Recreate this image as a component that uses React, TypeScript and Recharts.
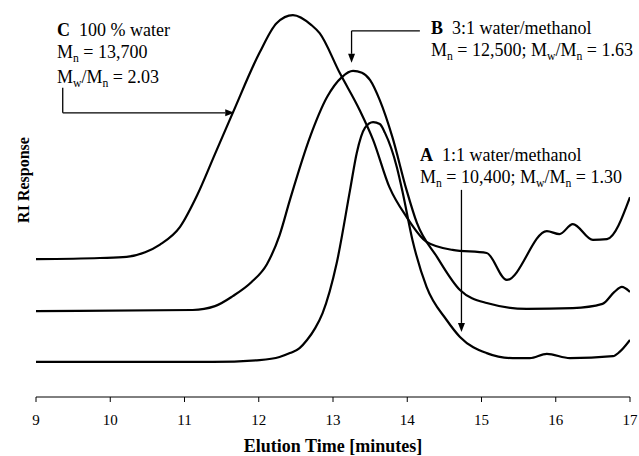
import React from "react"
import { Line, LineChart, ReferenceLine, XAxis, YAxis } from "recharts"

const xTicks = [9, 10, 11, 12, 13, 14, 15, 16, 17]

// C: 100 % water
const timeC = [9.0, 9.86, 10.22, 10.47, 10.67, 10.94, 11.17, 11.41, 11.65, 12.01, 12.24, 12.46, 12.71, 12.82, 13.09, 13.36, 13.54, 13.76, 13.99, 14.26, 14.61, 15.07, 15.34, 15.88, 16.05, 16.23, 16.5, 16.69, 17.0]
const respC = [35.8, 36.1, 36.4, 37.6, 39.6, 44.2, 52.4, 63.1, 73.8, 89.4, 97.1, 99.2, 96.6, 94.5, 84.2, 74.5, 66.8, 54.5, 46.8, 40.3, 38.2, 37.4, 30.4, 43.1, 42.3, 44.9, 40.8, 41.0, 51.9]

// B: 3:1 water/methanol
const timeB = [9.0, 11.11, 11.41, 11.65, 11.9, 12.11, 12.28, 12.42, 12.69, 12.92, 13.12, 13.27, 13.39, 13.5, 13.63, 13.8, 13.99, 14.13, 14.4, 14.71, 15.07, 15.61, 16.23, 16.63, 16.79, 16.89, 17.0]
const respB = [22.3, 22.6, 23.6, 26.2, 29.8, 34.5, 42.0, 51.2, 67.5, 77.9, 83.1, 84.7, 84.2, 82.3, 77.1, 67.5, 53.8, 45.2, 36.4, 27.8, 24.4, 22.9, 23.1, 24.2, 27.3, 28.6, 27.3]

// A: 1:1 water/methanol
const timeA = [9.0, 11.38, 12.01, 12.28, 12.42, 12.55, 12.65, 12.76, 12.86, 13.05, 13.23, 13.32, 13.43, 13.54, 13.63, 13.7, 13.86, 13.94, 14.07, 14.26, 14.53, 14.71, 15.07, 15.42, 15.65, 15.88, 16.19, 16.77, 16.86, 17.0]
const respA = [9.1, 9.1, 9.6, 10.4, 11.4, 12.7, 14.8, 17.9, 21.8, 34.8, 53.8, 63.4, 69.9, 71.4, 70.9, 68.6, 59.7, 53.0, 40.8, 28.6, 20.0, 15.6, 11.4, 10.1, 10.1, 11.2, 10.1, 10.6, 11.7, 14.8]

// pointer arrows, in data units
const arrows = [
  { x1: 9.36, y1: 80.3, x2: 9.36, y2: 73.8, head: false },
  { x1: 9.36, y1: 73.8, x2: 11.67, y2: 73.8, head: true },
  { x1: 14.17, y1: 95.1, x2: 13.25, y2: 95.1, head: false },
  { x1: 13.25, y1: 95.1, x2: 13.25, y2: 86.8, head: true },
  { x1: 14.73, y1: 53.8, x2: 14.73, y2: 16.9, head: true },
]

const toPoints = (t: number[], r: number[]) => t.map((x, i) => ({ t: x, r: r[i] }))

const serif = '"Liberation Serif", "Times New Roman", serif'

function Arrow(props: any) {
  const { x1, y1, x2, y2, head } = props
  const a = Math.atan2(y2 - y1, x2 - x1)
  const len = 9
  const w = 3.5
  const bx = x2 - len * Math.cos(a)
  const by = y2 - len * Math.sin(a)
  const px = -Math.sin(a) * w
  const py = Math.cos(a) * w
  return (
    <g>
      <line x1={x1} y1={y1} x2={head ? bx : x2} y2={head ? by : y2} stroke="#000" strokeWidth={1.3} />
      {head && (
        <polygon
          points={`${x2},${y2} ${bx + px},${by + py} ${bx - px},${by - py}`}
          fill="#000"
        />
      )}
    </g>
  )
}

const Sub = ({ children }: { children: React.ReactNode }) => (
  <span style={{ fontSize: "0.65em", position: "relative", top: "0.3em" }}>{children}</span>
)

const textBlock: React.CSSProperties = {
  position: "absolute",
  fontFamily: serif,
  fontSize: 18,
  lineHeight: "22px",
  whiteSpace: "nowrap",
  color: "#000",
}

export default function App() {
  return (
    <div
      style={{
        position: "absolute",
        left: 0,
        top: 0,
        width: 639,
        height: 456,
        background: "#fff",
        fontFamily: serif,
      }}
    >
      <LineChart width={639} height={456} margin={{ top: 12, right: 9, left: 36, bottom: 29 }}>
        <XAxis
          type="number"
          dataKey="t"
          domain={[9, 17]}
          ticks={xTicks}
          allowDataOverflow
          stroke="#000"
          tickSize={5}
          tickMargin={12}
          height={30}
          tick={{ fill: "#000", fontSize: 15, fontFamily: serif }}
        />
        <YAxis
          type="number"
          domain={[0, 100]}
          allowDataOverflow
          width={0}
          tick={false}
          tickLine={false}
          stroke="#000"
        />
        <Line data={toPoints(timeC, respC)} dataKey="r" type="monotone" stroke="#000" strokeWidth={2.2} dot={false} isAnimationActive={false} />
        <Line data={toPoints(timeB, respB)} dataKey="r" type="monotone" stroke="#000" strokeWidth={2.2} dot={false} isAnimationActive={false} />
        <Line data={toPoints(timeA, respA)} dataKey="r" type="monotone" stroke="#000" strokeWidth={2.2} dot={false} isAnimationActive={false} />
        {arrows.map((s, i) => (
          <ReferenceLine
            key={i}
            segment={[
              { x: s.x1, y: s.y1 },
              { x: s.x2, y: s.y2 },
            ]}
            ifOverflow="visible"
            shape={(p: any) => <Arrow {...p} head={s.head} />}
          />
        ))}
      </LineChart>

      <div style={{ ...textBlock, left: 57, top: 19 }}>
        <div><b>C</b>&nbsp; 100 % water</div>
        <div>M<Sub>n</Sub> = 13,700</div>
        <div>M<Sub>w</Sub>/M<Sub>n</Sub> = 2.03</div>
      </div>
      <div style={{ ...textBlock, left: 431, top: 17 }}>
        <div><b>B</b>&nbsp; 3:1 water/methanol</div>
        <div>M<Sub>n</Sub> = 12,500; M<Sub>w</Sub>/M<Sub>n</Sub> = 1.63</div>
      </div>
      <div style={{ ...textBlock, left: 420, top: 144 }}>
        <div><b>A</b>&nbsp; 1:1 water/methanol</div>
        <div>M<Sub>n</Sub> = 10,400; M<Sub>w</Sub>/M<Sub>n</Sub> = 1.30</div>
      </div>

      <div
        style={{
          position: "absolute",
          left: 333,
          top: 436,
          transform: "translateX(-50%)",
          fontFamily: serif,
          fontWeight: "bold",
          fontSize: 18,
          lineHeight: "20px",
          whiteSpace: "nowrap",
        }}
      >
        Elution Time [minutes]
      </div>
      <div
        style={{
          position: "absolute",
          left: 24,
          top: 180,
          transform: "translate(-50%, -50%) rotate(-90deg)",
          fontFamily: serif,
          fontWeight: "bold",
          fontSize: 16,
          lineHeight: "20px",
          whiteSpace: "nowrap",
        }}
      >
        RI Response
      </div>
    </div>
  )
}
